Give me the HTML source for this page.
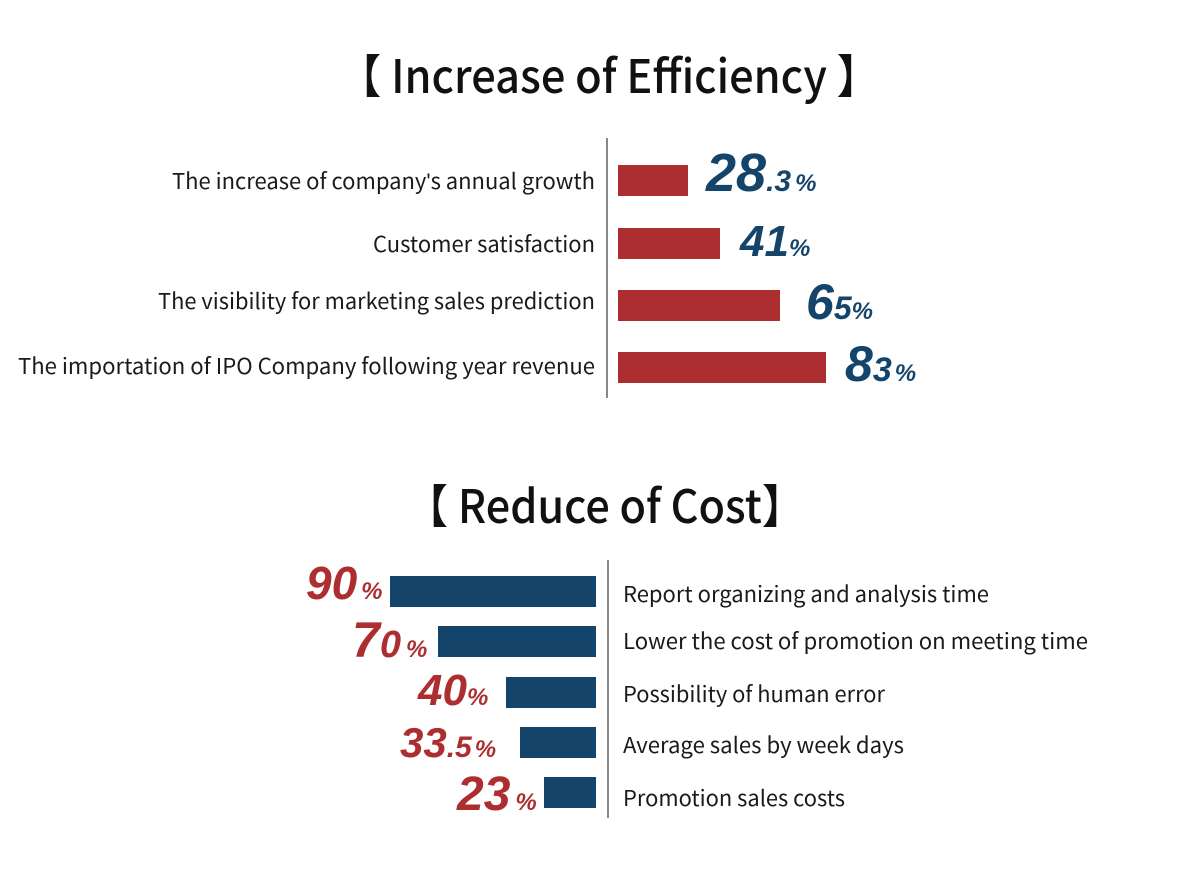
<!DOCTYPE html>
<html><head><meta charset="utf-8"><style>
body{margin:0;background:#fff}
svg{display:block}
.t{font-family:"Noto Sans CJK TC","Liberation Sans",sans-serif;font-size:22px;fill:#1a1a1a}
.h{font-family:"Noto Sans CJK TC","Liberation Sans",sans-serif;font-size:46px;font-weight:500;fill:#111}
.nb{font-family:"Liberation Sans",sans-serif;font-weight:bold;font-style:italic;fill:#15446a}
.nr{font-family:"Liberation Sans",sans-serif;font-weight:bold;font-style:italic;fill:#ad2e30}
</style></head><body>
<svg width="1200" height="890" viewBox="0 0 1200 890">
<text class="h" x="338" y="93" textLength="542" lengthAdjust="spacingAndGlyphs">【 Increase of Efficiency 】</text>
<line x1="607" y1="138" x2="607" y2="398" stroke="#888" stroke-width="2"/>
<g fill="#ad2e30">
<rect x="618" y="165" width="70" height="31"/>
<rect x="618" y="228" width="102" height="31"/>
<rect x="618" y="290" width="162" height="31"/>
<rect x="618" y="352" width="208" height="31"/>
</g>
<g class="t">
<text x="172" y="189" textLength="423" lengthAdjust="spacingAndGlyphs">The increase of company<tspan font-family="Liberation Sans">'</tspan>s annual growth</text>
<text x="373" y="252" textLength="222" lengthAdjust="spacingAndGlyphs">Customer satisfaction</text>
<text x="158" y="309" textLength="437" lengthAdjust="spacingAndGlyphs">The visibility for marketing sales prediction</text>
<text x="18" y="374" textLength="577" lengthAdjust="spacingAndGlyphs">The importation of IPO Company following year revenue</text>
</g>
<text class="nb" x="706" y="191"><tspan font-size="54">28</tspan><tspan font-size="30">.3</tspan><tspan font-size="24" dx="4">%</tspan></text>
<text class="nb" x="740" y="256"><tspan font-size="44">41</tspan><tspan font-size="24">%</tspan></text>
<text class="nb" x="806" y="319"><tspan font-size="50">6</tspan><tspan font-size="32">5</tspan><tspan font-size="24">%</tspan></text>
<text class="nb" x="845" y="381"><tspan font-size="50">8</tspan><tspan font-size="34">3</tspan><tspan font-size="24" dx="3">%</tspan></text>

<text class="h" x="405" y="523" textLength="400" lengthAdjust="spacingAndGlyphs">【 Reduce of Cost】</text>
<line x1="608" y1="560" x2="608" y2="818" stroke="#888" stroke-width="2"/>
<g fill="#15446a">
<rect x="390" y="576" width="206" height="31"/>
<rect x="438" y="626" width="158" height="31"/>
<rect x="506" y="677" width="90" height="31"/>
<rect x="520" y="727" width="76" height="31"/>
<rect x="544" y="777" width="52" height="31"/>
</g>
<g class="t">
<text x="623" y="602" textLength="366" lengthAdjust="spacingAndGlyphs">Report organizing and analysis time</text>
<text x="623" y="649" textLength="465" lengthAdjust="spacingAndGlyphs">Lower the cost of promotion on meeting time</text>
<text x="623" y="702" textLength="262" lengthAdjust="spacingAndGlyphs">Possibility of human error</text>
<text x="623" y="753" textLength="281" lengthAdjust="spacingAndGlyphs">Average sales by week days</text>
<text x="623" y="806" textLength="222" lengthAdjust="spacingAndGlyphs">Promotion sales costs</text>
</g>
<text class="nr" x="306" y="599"><tspan font-size="46">90</tspan><tspan font-size="24" dx="4">%</tspan></text>
<text class="nr" x="352" y="657"><tspan font-size="50">7</tspan><tspan font-size="38">0</tspan><tspan font-size="24" dx="5">%</tspan></text>
<text class="nr" x="418" y="705"><tspan font-size="44">40</tspan><tspan font-size="24">%</tspan></text>
<text class="nr" x="400" y="757"><tspan font-size="42">33</tspan><tspan font-size="30">.5</tspan><tspan font-size="24" dx="3">%</tspan></text>
<text class="nr" x="457" y="810"><tspan font-size="48">23</tspan><tspan font-size="24" dx="5">%</tspan></text>
</svg>
</body></html>
